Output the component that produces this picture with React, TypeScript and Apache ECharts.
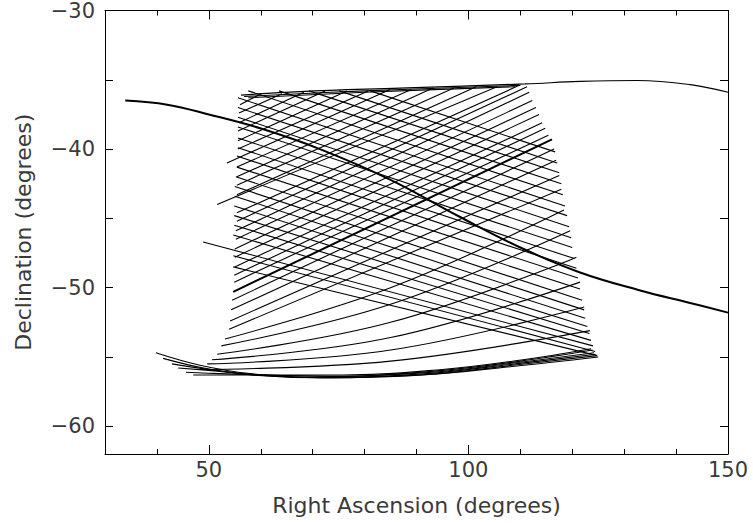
import React, { useEffect, useRef } from "react";
import * as echarts from "echarts";

// Right Ascension / Declination (degrees)
const xTickLabels = [50, 100, 150];
const xTicks = [30, 40, 50, 60, 70, 80, 90, 100, 110, 120, 130, 140, 150];
const yTickLabels = [-60, -50, -40, -30];
const yTicks = [-60, -55, -50, -45, -40, -35, -30];

// long great circle (thick)
const greatCircle = [
  [33.9, -36.5], [42.0, -36.8], [50.0, -37.5], [59.9, -38.5], [71.4, -40.0], [84.9, -42.2],
  [98.4, -44.9], [110.0, -47.1], [121.5, -48.9], [133.1, -50.2], [142.7, -51.1], [150, -51.8],
];

// top arc continuing to the right
const topArc = [
  [56.2, -36.1], [67.6, -35.85], [86.8, -35.6], [110.9, -35.3], [121.5, -35.12],
  [132.5, -35.05], [142.7, -35.35], [150, -35.9],
];
const topBand = [
  [[56.8, -36.2], [80, -35.8], [110.0, -35.4]],
  [[57.6, -36.3], [80, -35.9], [109.0, -35.5]],
];

// scans running down to the right: [ra0, dec0, ra1, dec1]
const descendingScans = [
  [81.1, -35.8, 116.7, -40.2],
  [75.1, -35.8, 117.1, -41.0],
  [69.3, -35.8, 117.5, -41.7],
  [63.5, -35.8, 117.9, -42.5],
  [57.6, -35.8, 118.2, -43.3],
  [55.6, -36.3, 118.6, -44.1],
  [55.6, -37.0, 119.0, -44.8],
  [55.6, -37.7, 119.4, -45.6],
  [55.6, -38.4, 119.8, -46.4],
  [55.6, -39.2, 120.0, -47.1],
  [55.6, -39.9, 120.4, -47.9],
  [55.4, -40.5, 120.8, -48.6],
  [55.4, -41.3, 121.1, -49.3],
  [55.2, -42.0, 121.5, -50.1],
  [55.0, -42.7, 121.9, -50.9],
  [55.0, -43.4, 122.3, -51.6],
  [54.9, -44.1, 122.5, -52.2],
  [54.9, -44.8, 122.9, -52.8],
  [54.9, -45.5, 123.3, -53.3],
  [54.7, -46.2, 123.6, -53.8],
  [48.9, -46.7, 124.0, -54.2],
  [54.7, -47.7, 124.4, -54.6],
  [54.7, -48.5, 124.8, -54.9],
];

// scans running up to the right: [ra0, dec0, ra1, dec1]
const ascendingScans = [
  [56.0, -36.8, 60.1, -36.0],
  [55.8, -37.4, 64.1, -36.0],
  [55.8, -38.1, 68.3, -35.9],
  [55.6, -38.7, 72.4, -35.8],
  [55.6, -39.4, 76.6, -35.8],
  [55.6, -40.0, 80.7, -35.8],
  [53.5, -41.0, 84.9, -35.7],
  [55.4, -41.3, 89.0, -35.7],
  [55.4, -42.0, 93.2, -35.6],
  [55.4, -42.6, 97.2, -35.6],
  [55.4, -43.3, 101.5, -35.5],
  [51.6, -44.0, 105.5, -35.5],
  [55.4, -44.6, 109.8, -35.4],
  [55.4, -45.2, 111.3, -35.5],
  [55.2, -45.9, 111.7, -35.9],
  [55.2, -46.5, 112.3, -36.5],
  [55.0, -47.2, 113.0, -37.0],
  [55.0, -47.8, 113.6, -37.5],
  [55.0, -48.5, 114.2, -38.1],
  [54.9, -49.1, 114.8, -38.5],
  [54.9, -49.6, 115.4, -39.0],
  [54.7, -50.3, 116.1, -39.3],
  [54.5, -50.9, 116.5, -40.0],
  [54.3, -51.6, 116.9, -40.8],
  [54.1, -52.4, 117.5, -41.9],
  [53.9, -53.0, 117.9, -42.9],
];
const thickAscendingIndex = 21;

// lower fan scans, gently curved: [start, middle, end]
const fanScans = [
  [[53.1, -53.7], [85.0, -50.0], [118.4, -44.4]],
  [[52.4, -54.2], [85.0, -51.2], [119.6, -45.9]],
  [[51.6, -54.8], [85.0, -52.5], [120.8, -47.8]],
  [[50.6, -55.2], [85.0, -53.6], [121.5, -49.6]],
  [[49.7, -55.5], [85.0, -54.5], [122.3, -51.4]],
  [[48.3, -55.9], [85.0, -55.3], [123.4, -53.1]],
];

// bottom arcs
const bottomArcs = [
  [[39.8, -54.7], [48.3, -55.6], [57.9, -56.2], [71.4, -56.5], [90.7, -56.3], [108.0, -55.7], [125.0, -55.0]],
  [[41.2, -55.1], [49.0, -55.8], [58.5, -56.3], [72.0, -56.5], [91.0, -56.3], [108.5, -55.6], [124.8, -54.9]],
  [[42.9, -55.5], [50.0, -55.9], [59.0, -56.3], [73.0, -56.5], [92.0, -56.2], [109.0, -55.5], [124.5, -54.8]],
  [[44.1, -55.8], [51.0, -56.0], [60.0, -56.3], [74.0, -56.4], [93.0, -56.1], [109.5, -55.4], [124.2, -54.7]],
  [[45.6, -56.1], [52.0, -56.2], [61.0, -56.3], [75.0, -56.4], [94.0, -56.0], [110.0, -55.3], [123.9, -54.5]],
  [[47.0, -56.3], [53.0, -56.3], [62.0, -56.3], [76.0, -56.3], [95.0, -55.9], [110.5, -55.2], [123.6, -54.4]],
];

const FONT = "DejaVu Sans";
const TEXT = "#3a3a3a";

function fmt(v: number) {
  return v < 0 ? "\u2212" + Math.abs(v) : String(v);
}

function lineSeries(data: number[][], width: number, smooth = false) {
  return {
    type: "line",
    data,
    showSymbol: false,
    symbol: "none",
    silent: true,
    smooth: smooth ? 0.4 : false,
    lineStyle: { color: "#000", width },
    xAxisIndex: 0,
    yAxisIndex: 0,
  };
}

export default function App() {
  const ref = useRef<HTMLDivElement>(null);
  useEffect(() => {
    if (!ref.current) return;
    const chart = echarts.init(ref.current, null, { renderer: "svg" });
    const series: any[] = [];
    descendingScans.forEach((s) => series.push(lineSeries([[s[0], s[1]], [s[2], s[3]]], 1.1)));
    ascendingScans.forEach((s, i) =>
      series.push(lineSeries([[s[0], s[1]], [s[2], s[3]]], i === thickAscendingIndex ? 2 : 1.1))
    );
    fanScans.forEach((a) => series.push(lineSeries(a, 1.1, true)));
    bottomArcs.forEach((a) => series.push(lineSeries(a, 1.1, true)));
    topBand.forEach((a) => series.push(lineSeries(a, 1.1, true)));
    series.push(lineSeries(topArc, 1.2, true));
    series.push(lineSeries(greatCircle, 2, true));

    const axisCommon = { type: "value", min: 30, max: 150, splitLine: { show: false } };
    const yCommon = { type: "value", min: -62, max: -30, splitLine: { show: false } };
    const txt = { fontFamily: FONT, fontSize: 21, color: TEXT };
    chart.setOption({
      animation: false,
      grid: { left: 105, right: 25, top: 10, bottom: 69 },
      xAxis: [
        {
          ...axisCommon,
          position: "bottom",
          axisLine: { show: true, lineStyle: { color: "#000", width: 1 } },
          axisTick: { show: true, inside: true, length: 5, customValues: xTicks, lineStyle: { color: "#000" } },
          axisLabel: { customValues: xTickLabels, formatter: fmt, ...txt, margin: 5 },
          name: "Right Ascension (degrees)",
          nameLocation: "middle",
          nameGap: 40,
          nameTextStyle: { ...txt, fontSize: 22 },
        },
        {
          ...axisCommon,
          position: "bottom",
          axisLine: { show: false },
          axisTick: { show: true, inside: true, length: 9, customValues: xTickLabels, lineStyle: { color: "#000" } },
          axisLabel: { show: false },
        },
        {
          ...axisCommon,
          position: "top",
          axisLine: { show: true, lineStyle: { color: "#000", width: 1 } },
          axisTick: { show: true, inside: true, length: 5, customValues: xTicks, lineStyle: { color: "#000" } },
          axisLabel: { show: false },
        },
        {
          ...axisCommon,
          position: "top",
          axisLine: { show: false },
          axisTick: { show: true, inside: true, length: 9, customValues: xTickLabels, lineStyle: { color: "#000" } },
          axisLabel: { show: false },
        },
      ],
      yAxis: [
        {
          ...yCommon,
          position: "left",
          axisLine: { show: true, lineStyle: { color: "#000", width: 1 } },
          axisTick: { show: true, inside: true, length: 8, customValues: yTicks, lineStyle: { color: "#000" } },
          axisLabel: { customValues: yTickLabels, formatter: fmt, ...txt, margin: 10 },
          name: "Declination (degrees)",
          nameLocation: "middle",
          nameGap: 71,
          nameRotate: 90,
          nameTextStyle: { ...txt, fontSize: 22 },
        },
        {
          ...yCommon,
          position: "right",
          axisLine: { show: true, lineStyle: { color: "#000", width: 1 } },
          axisTick: { show: true, inside: true, length: 8, customValues: yTicks, lineStyle: { color: "#000" } },
          axisLabel: { show: false },
        },
      ],
      series,
    });
    return () => chart.dispose();
  }, []);
  return (
    <div
      ref={ref}
      style={{ position: "fixed", left: 0, top: 0, width: 753, height: 523, background: "#fff" }}
    />
  );
}
